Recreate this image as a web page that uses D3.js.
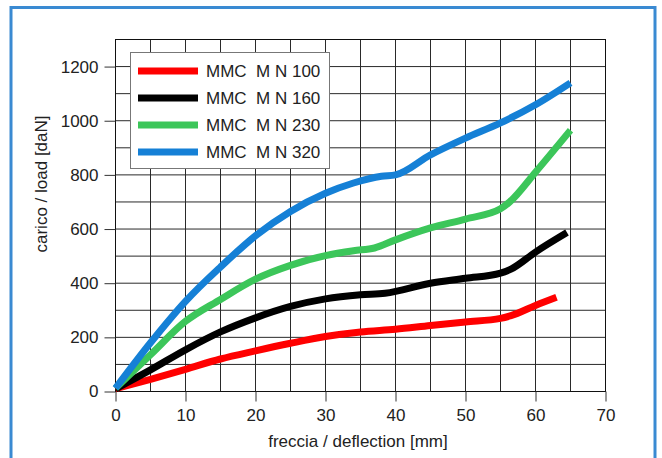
<!DOCTYPE html>
<html>
<head>
<meta charset="utf-8">
<script src="https://cdn.jsdelivr.net/npm/d3@7"></script>
<style>
  body { margin: 0; background: #fff; }
  svg text { font-family: "Liberation Sans", Arial, sans-serif; fill: #222; }
</style>
</head>
<body>
<svg id="chart" width="662" height="458"></svg>
<script>
// series names and colours
const seriesNames = ["MMC  M N 100", "MMC  M N 160", "MMC  M N 230", "MMC  M N 320"];
const seriesColors = ["#ff0000", "#000000", "#3cc65a", "#1580d6"];

// [deflection mm, load daN]
const mn100 = [[0, 10], [5, 45], [10, 82], [15, 120], [20, 150], [25, 178], [30, 203], [35, 220],
  [40, 230], [45, 244], [50, 257], [55, 270], [56.5, 280], [60, 318], [63, 348]];
const mn160 = [[0, 10], [5, 80], [10, 154], [15, 220], [20, 272], [25, 314], [30, 342], [35, 357],
  [38.5, 363], [45, 400], [50, 418], [55, 437], [56.5, 452], [60, 515], [64.5, 587]];
const mn230 = [[0, 12], [5, 136], [10, 259], [15, 340], [20, 415], [25, 466], [30, 502], [34, 520],
  [37, 530], [40, 560], [45, 604], [50, 637], [55, 675], [56.3, 700], [60, 810], [65, 965]];
const mn320 = [[0, 12], [5, 180], [10, 333], [15, 460], [20, 575], [25, 665], [30, 732], [34, 770],
  [38, 795], [40, 800], [45, 874], [50, 936], [55, 992], [60, 1059], [65, 1140]];
const allSeries = [mn100, mn160, mn230, mn320];

// axis ticks
const xTicks = [0, 10, 20, 30, 40, 50, 60, 70];
const xGrid = d3.range(0, 71, 5);
const yTicks = [0, 200, 400, 600, 800, 1000, 1200];
const yGrid = d3.range(0, 1301, 100);

const svg = d3.select("#chart");

// outer blue frame
svg.append("rect")
  .attr("x", 11).attr("y", 7.5)
  .attr("width", 644).attr("height", 470)
  .attr("fill", "none")
  .attr("stroke", "#3a8ad2")
  .attr("stroke-width", 3);

const x = d3.scaleLinear().domain([0, 70]).range([115.5, 605.5]);
const y = d3.scaleLinear().domain([0, 1300]).range([391.5, 39.5]);

// grid
const grid = svg.append("g");
grid.selectAll(".gx").data(xGrid).enter().append("line")
  .attr("x1", d => x(d)).attr("x2", d => x(d))
  .attr("y1", y(0)).attr("y2", y(1300))
  .attr("stroke", "#2a2a2a")
  .attr("stroke-width", 1);
grid.selectAll(".gy").data(yGrid).enter().append("line")
  .attr("x1", x(0)).attr("x2", x(70))
  .attr("y1", d => y(d)).attr("y2", d => y(d))
  .attr("stroke", "#2a2a2a")
  .attr("stroke-width", 1);

// plot border
svg.append("rect")
  .attr("x", x(0)).attr("y", y(1300))
  .attr("width", x(70) - x(0)).attr("height", y(0) - y(1300))
  .attr("fill", "none").attr("stroke", "#111").attr("stroke-width", 1);

// axes
const xAxis = svg.append("g")
  .attr("transform", "translate(0," + y(0) + ")")
  .call(d3.axisBottom(x).tickValues(xTicks).tickFormat(d3.format("d")).tickSize(10).tickPadding(7));
const yAxis = svg.append("g")
  .attr("transform", "translate(" + x(0) + ",0)")
  .call(d3.axisLeft(y).tickValues(yTicks).tickFormat(d3.format("d")).tickSize(11).tickPadding(6));
[xAxis, yAxis].forEach(a => {
  a.select(".domain").remove();
  a.selectAll("line").attr("stroke", "#333");
  a.selectAll("text").attr("font-size", 17).attr("font-family", "Liberation Sans, Arial, sans-serif").attr("fill", "#222");
});

// axis titles
svg.append("text")
  .attr("x", 358).attr("y", 447)
  .attr("text-anchor", "middle").attr("font-size", 17)
  .text("freccia / deflection [mm]");
svg.append("text")
  .attr("transform", "translate(47,184) rotate(-90)")
  .attr("text-anchor", "middle").attr("font-size", 17)
  .text("carico / load [daN]");

// lines
const line = d3.line()
  .x(d => x(d[0])).y(d => y(d[1]))
  .curve(d3.curveMonotoneX);
svg.append("g").selectAll("path").data(allSeries).enter().append("path")
  .attr("d", line)
  .attr("fill", "none")
  .attr("stroke", (d, i) => seriesColors[i])
  .attr("stroke-width", 7);

// legend
const legend = svg.append("g");
legend.append("rect")
  .attr("x", 130.5).attr("y", 52.5).attr("width", 199).attr("height", 116)
  .attr("fill", "#fff").attr("stroke", "#777").attr("stroke-width", 1);
seriesNames.forEach((name, i) => {
  const ly = 71 + i * 27;
  legend.append("line")
    .attr("x1", 138).attr("x2", 198).attr("y1", ly).attr("y2", ly)
    .attr("stroke", seriesColors[i]).attr("stroke-width", 7);
  legend.append("text")
    .attr("x", 206).attr("y", ly + 6)
    .attr("font-size", 17)
    .attr("xml:space", "preserve")
    .text(name);
});
</script>
</body>
</html>
